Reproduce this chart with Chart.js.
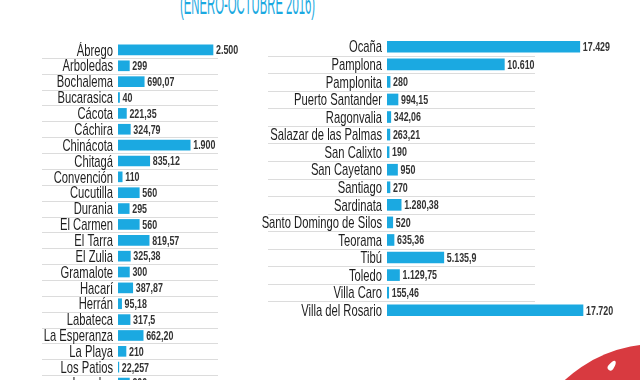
<!DOCTYPE html>
<html>
<head>
<meta charset="utf-8">
<script src="https://cdn.jsdelivr.net/npm/chart.js@4"></script>
<style>
  html, body { margin: 0; padding: 0; background: #fff; width: 640px; height: 380px; overflow: hidden; position: relative; }
  canvas { position: absolute; }
  #leftChart { left: 0; top: 42px; }
  #rightChart { left: 240px; top: 38px; }
  .title {
    position: absolute; left: 180px; top: -11px; white-space: nowrap; line-height: 30px;
    font-family: "Liberation Sans", sans-serif; font-size: 30px; color: #1ba9e1;
    transform-origin: left top;
  }
  .logo {
    position: absolute; left: 521px; top: 344px; width: 272px; height: 272px;
    border-radius: 50%; background: #d83a40;
  }
  .logo::after {
    content: ""; position: absolute; left: 88px; top: 16px; width: 6px; height: 11px;
    background: #fff; border-radius: 50% 50% 50% 50% / 70% 70% 30% 30%; transform: rotate(35deg);
  }
</style>
</head>
<body>
<div class="title" id="title">(ENERO-OCTUBRE 2016)</div>
<canvas id="leftChart" width="260" height="349"></canvas>
<canvas id="rightChart" width="400" height="281"></canvas>
<div class="logo"></div>
<script>
// Left column
const leftCategories = ["Ábrego", "Arboledas", "Bochalema", "Bucarasica", "Cácota", "Cáchira",
  "Chinácota", "Chitagá", "Convención", "Cucutilla", "Durania", "El Carmen", "El Tarra",
  "El Zulia", "Gramalote", "Hacarí", "Herrán", "Labateca", "La Esperanza", "La Playa",
  "Los Patios", "Lourdes"];
const leftValues = [2500, 299, 690.07, 40, 221.35, 324.79, 1900, 835.12, 110, 560, 295, 560,
  819.57, 325.38, 300, 387.87, 95.18, 317.5, 662.20, 210, 22.257, 300];
const leftTexts = ["2.500", "299", "690,07", "40", "221,35", "324,79", "1.900", "835,12", "110",
  "560", "295", "560", "819,57", "325,38", "300", "387,87", "95,18", "317,5", "662,20", "210",
  "22,257", "300"];

// Right column
const rightCategories = ["Ocaña", "Pamplona", "Pamplonita", "Puerto Santander", "Ragonvalia",
  "Salazar de las Palmas", "San Calixto", "San Cayetano", "Santiago", "Sardinata",
  "Santo Domingo de Silos", "Teorama", "Tibú", "Toledo", "Villa Caro", "Villa del Rosario"];
const rightValues = [17429, 10610, 280, 994.15, 342.06, 263.21, 190, 950, 270, 1280.38, 520,
  635.36, 5135.9, 1129.75, 155.46, 17720];
const rightTexts = ["17.429", "10.610", "280", "994,15", "342,06", "263,21", "190", "950", "270",
  "1.280,38", "520", "635,36", "5.135,9", "1.129,75", "155,46", "17.720"];

const BAR_COLOR = "#1ba9e1";
const FONT = "'Liberation Sans', Arial, sans-serif";

// squeeze the title into its narrow slot
const title = document.getElementById("title");
title.style.transform = "scaleX(" + (135 / title.getBoundingClientRect().width) + ")";

// condensed text: draw with a horizontal squeeze
function narrowText(ctx, text, x, y, sx) {
  ctx.save();
  ctx.translate(x, y);
  ctx.scale(sx, 1);
  ctx.fillText(text, 0, 0);
  ctx.restore();
}

// row separators, category names and value texts
const rowDecor = {
  id: "rowDecor",
  beforeDatasetsDraw(chart, args, opts) {
    const ctx = chart.ctx;
    const y = chart.scales.y;
    const half = (y.getPixelForValue(1) - y.getPixelForValue(0)) / 2;
    ctx.save();
    ctx.strokeStyle = "#dcdcdc";
    ctx.lineWidth = 1;
    ctx.beginPath();
    chart.data.labels.forEach((_, i) => {
      const py = Math.round(y.getPixelForValue(i) + half) + 0.5;
      ctx.moveTo(opts.x0, py);
      ctx.lineTo(opts.x1, py);
    });
    ctx.stroke();

    ctx.fillStyle = "#1e1e1e";
    ctx.font = "17px " + FONT;
    ctx.textAlign = "right";
    ctx.textBaseline = "middle";
    chart.data.labels.forEach((lab, i) => {
      narrowText(ctx, lab, y.right - 5, y.getPixelForValue(i) + 1, 0.66);
    });
    ctx.restore();
  },
  afterDatasetsDraw(chart, args, opts) {
    const ctx = chart.ctx;
    const meta = chart.getDatasetMeta(0);
    ctx.save();
    ctx.fillStyle = "#333";
    ctx.font = "bold 12px " + FONT;
    ctx.textAlign = "left";
    ctx.textBaseline = "middle";
    meta.data.forEach((bar, i) => {
      narrowText(ctx, opts.texts[i], bar.x + 3, bar.y + 1, 0.74);
    });
    ctx.restore();
  }
};

function makeChart(id, labels, values, texts, axisWidth, xMax, thickness, x0, x1) {
  return new Chart(document.getElementById(id), {
    type: "bar",
    data: {
      labels: labels,
      datasets: [{ data: values, backgroundColor: BAR_COLOR, barThickness: thickness }]
    },
    options: {
      indexAxis: "y",
      responsive: false,
      animation: false,
      layout: { padding: 0 },
      plugins: {
        legend: { display: false },
        tooltip: { enabled: false },
        rowDecor: { texts: texts, x0: x0, x1: x1 }
      },
      scales: {
        x: { display: false, min: 0, max: xMax },
        y: {
          grid: { display: false },
          border: { display: false },
          ticks: { display: false },
          afterFit: (s) => { s.width = axisWidth; }
        }
      }
    },
    plugins: [rowDecor]
  });
}

makeChart("leftChart", leftCategories, leftValues, leftTexts, 118, 2500 * 142 / 95, 10, 42, 218);
makeChart("rightChart", rightCategories, rightValues, rightTexts, 147, 17720 * 253 / 196, 11, 28, 295);
</script>
</body>
</html>
